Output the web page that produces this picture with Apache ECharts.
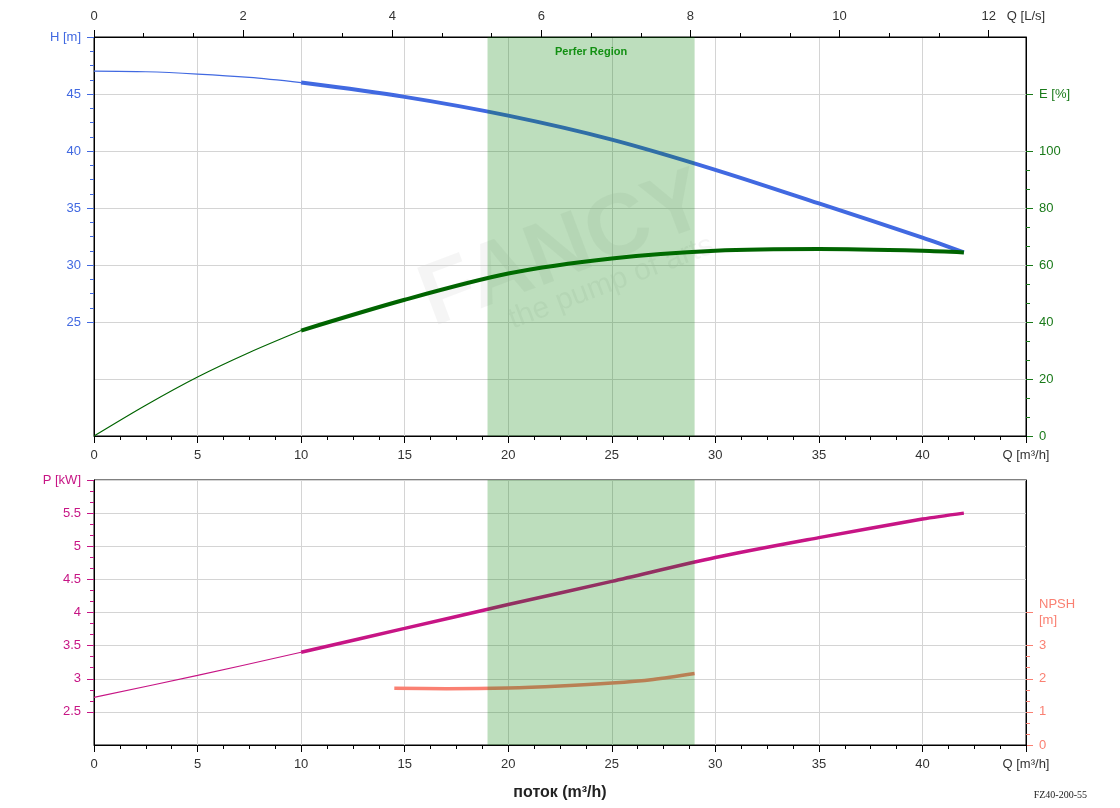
<!DOCTYPE html>
<html>
<head>
<meta charset="utf-8">
<script src="https://cdn.jsdelivr.net/npm/echarts@6/dist/echarts.min.js"></script>
<style>
  html, body { margin: 0; padding: 0; background: #fff; }
  #main { width: 1120px; height: 808px; }
</style>
</head>
<body>
<div id="main"></div>
<script>
// curve readings, flow in m3/h
var flowH = [0, 2.5, 5, 7.5, 10, 15, 20, 25, 30, 35, 40, 42];
var head = [47.0, 46.95, 46.75, 46.45, 46.0, 44.75, 43.1, 41.0, 38.35, 35.4, 32.4, 31.1];
var flowE = [0, 2.5, 5, 7.5, 10, 15, 20, 25, 30, 35, 40, 42];
var eff = [0, 10.8, 20.7, 29.3, 37.0, 47.8, 57.0, 62.3, 65.0, 65.6, 65.0, 64.4];
var flowP = [0, 5, 10, 15, 20, 25, 30, 35, 40, 42];
var power = [2.72, 3.05, 3.40, 3.76, 4.12, 4.47, 4.83, 5.13, 5.41, 5.5];
var flowNpsh = [14.5, 17, 20, 22.5, 25, 27, 29];
var npsh = [1.71, 1.70, 1.72, 1.78, 1.87, 1.98, 2.16];

// axes
var qLsTicks = [0, 2, 4, 6, 8, 10, 12];
var hTicks = [25, 30, 35, 40, 45, 50];
var eTicks = [0, 20, 40, 60, 80, 100, 120];
var pTicks = [2.5, 3, 3.5, 4, 4.5, 5, 5.5, 6];
var npshTicks = [0, 1, 2, 3, 4];
var bestRegion = [19, 29];
var ratedFrom = 10;

var font = 'Liberation Sans, Arial, sans-serif';
var cH = '#4169E1', cE = '#006400', cEt = '#1a7a1a', cP = '#C71585', cN = '#FA8072';

function pts(q, v) { return q.map(function (x, i) { return [x, v[i]]; }); }
function thin(q, v) { return pts(q, v).filter(function (p) { return p[0] <= ratedFrom; }); }
function thick(q, v) { return pts(q, v).filter(function (p) { return p[0] >= ratedFrom; }); }
// minor tick positions between consecutive majors, up to 'upto'
function minors(t, n, upto) {
    var out = [];
    for (var i = 0; i < t.length - 1; i++) {
        if (t[i + 1] > upto) break;
        for (var k = 1; k < n; k++) out.push(t[i] + (t[i + 1] - t[i]) * k / n);
    }
    return out;
}

function valAxis(grid, pos, min, max, color, ticks, labelMap, split, extra) {
    var ax = {
        type: 'value', gridIndex: grid, position: pos, min: min, max: max,
        axisLine: { show: true, onZero: false, lineStyle: { color: '#000', width: 1 } },
        axisTick: { show: true, customValues: ticks, length: 7, lineStyle: { color: color } },
        axisLabel: {
            customValues: ticks, color: color, fontSize: 13, fontFamily: font, margin: 13,
            formatter: function (v) { return labelMap[v] !== undefined ? labelMap[v] : String(v); }
        },
        splitLine: { show: split, lineStyle: { color: '#d4d4d4', width: 1 } }
    };
    if (extra) Object.assign(ax.axisLabel, extra);
    return ax;
}
// companion axis carrying only the short minor ticks
function minorAxis(grid, pos, min, max, color, values) {
    return {
        type: 'value', gridIndex: grid, position: pos, min: min, max: max,
        axisLine: { show: false, onZero: false }, axisLabel: { show: false }, splitLine: { show: false },
        axisTick: { show: true, customValues: values, length: 4, lineStyle: { color: color } }
    };
}
function qAxis(grid, name) {
    return {
        type: 'value', gridIndex: grid, position: 'bottom', min: 0, max: 45, interval: 5,
        axisLine: { onZero: false, lineStyle: { color: '#000' } },
        axisTick: { length: 7, lineStyle: { color: '#000' } },
        minorTick: { show: true, splitNumber: 4, length: 4, lineStyle: { color: '#000' } },
        axisLabel: {
            color: '#333', fontSize: 13, fontFamily: font, margin: 13,
            formatter: function (v) { return v === 45 ? 'Q [m³/h]' : String(v); }
        },
        splitLine: { show: true, lineStyle: { color: '#d4d4d4', width: 1 } },
        name: name, nameLocation: 'middle', nameGap: 40,
        nameTextStyle: { fontSize: 16, fontWeight: 'bold', color: '#222', fontFamily: font }
    };
}

function curve(xi, yi, data, color, w) {
    return {
        type: 'line', xAxisIndex: xi, yAxisIndex: yi, data: data, showSymbol: false,
        smooth: 0.3, z: 3, silent: true,
        lineStyle: { color: color, width: w }
    };
}
function region(xi, yi, withLabel) {
    return {
        type: 'line', xAxisIndex: xi, yAxisIndex: yi, data: [], silent: true,
        markArea: {
            z: 10, silent: true,
            itemStyle: { color: 'rgba(0,128,0,0.26)' },
            label: {
                show: withLabel, position: 'insideTop', distance: 9,
                color: '#139013', fontWeight: 'bold', fontSize: 11, fontFamily: font
            },
            data: [[{ name: 'Perfer Region', xAxis: bestRegion[0] }, { xAxis: bestRegion[1] }]]
        }
    };
}

var topRect = { left: 94, right: 94, top: 37, bottom: 372 };
var lowRect = { left: 94, right: 94, top: 480, bottom: 63 };

var option = {
    animation: false,
    backgroundColor: '#fff',
    grid: [
        Object.assign({ show: true, borderColor: '#000', borderWidth: 1 }, topRect),
        Object.assign({ show: true, borderColor: '#000', borderWidth: 1 }, lowRect),
        Object.assign({}, topRect),
        Object.assign({}, lowRect)
    ],
    xAxis: [
        qAxis(0, ''),
        {
            type: 'value', gridIndex: 0, position: 'top', min: 0, max: 12.5,
            axisLine: { onZero: false, lineStyle: { color: '#000' } },
            axisTick: { customValues: qLsTicks, length: 7, lineStyle: { color: '#000' } },
            axisLabel: {
                customValues: qLsTicks.concat([12.5]), color: '#333', fontSize: 13, fontFamily: font, margin: 14,
                formatter: function (v) { return v === 12.5 ? 'Q [L/s]' : String(v); }
            },
            splitLine: { show: false }
        },
        qAxis(1, 'поток (m³/h)'),
        {
            type: 'value', gridIndex: 2, position: 'top', min: 0, max: 12.5,
            axisLine: { show: false, onZero: false }, axisLabel: { show: false }, splitLine: { show: false },
            axisTick: { customValues: minors(qLsTicks, 3, 12), length: 4, lineStyle: { color: '#000' } }
        },
        { type: 'value', gridIndex: 3, min: 0, max: 45, show: false, axisLine: { onZero: false } }
    ],
    yAxis: [
        valAxis(0, 'left', 15, 50, cH, hTicks, { 50: 'H [m]' }, false),
        valAxis(0, 'right', 0, 140, cEt, eTicks, { 120: 'E [%]' }, true),
        valAxis(1, 'left', 2, 6, cP, pTicks, { 6: 'P [kW]' }, true),
        valAxis(1, 'right', 0, 8, cN, npshTicks, { 4: 'NPSH\n[m]' }, false, { lineHeight: 16 }),
        minorAxis(2, 'left', 15, 50, cH, minors(hTicks, 4, 50)),
        minorAxis(2, 'right', 0, 140, cEt, minors(eTicks, 3, 100)),
        minorAxis(3, 'left', 2, 6, cP, minors(pTicks, 3, 6)),
        minorAxis(3, 'right', 0, 8, cN, minors(npshTicks, 3, 3))
    ],
    graphic: [
        {
            type: 'text', x: 440, y: 345, rotation: 0.36, silent: true, z: 0,
            style: { text: 'FANCY', font: 'bold 88px Liberation Sans', fill: 'rgba(0,0,0,0.04)', textVerticalAlign: 'bottom' }
        },
        {
            type: 'text', x: 515, y: 335, rotation: 0.36, silent: true, z: 0,
            style: { text: 'the pump of arts', font: '30px Liberation Sans', fill: 'rgba(0,0,0,0.045)', textVerticalAlign: 'bottom' }
        },
        {
            type: 'text', right: 33, top: 790, silent: true,
            style: { text: 'FZ40-200-55', font: '10px Liberation Serif, DejaVu Serif, serif', fill: '#222' }
        }
    ],
    series: [
        curve(0, 0, thin(flowH, head), cH, 1.2),
        curve(0, 0, thick(flowH, head), cH, 4),
        curve(0, 1, thin(flowE, eff), cE, 1.2),
        curve(0, 1, thick(flowE, eff), cE, 4),
        curve(2, 2, thin(flowP, power), cP, 1.2),
        curve(2, 2, thick(flowP, power), cP, 3.5),
        curve(2, 3, pts(flowNpsh, npsh), cN, 3.5),
        region(0, 0, true),
        region(2, 2, false)
    ]
};

var myChart = echarts.init(document.getElementById('main'));
myChart.setOption(option);
</script>
</body>
</html>
